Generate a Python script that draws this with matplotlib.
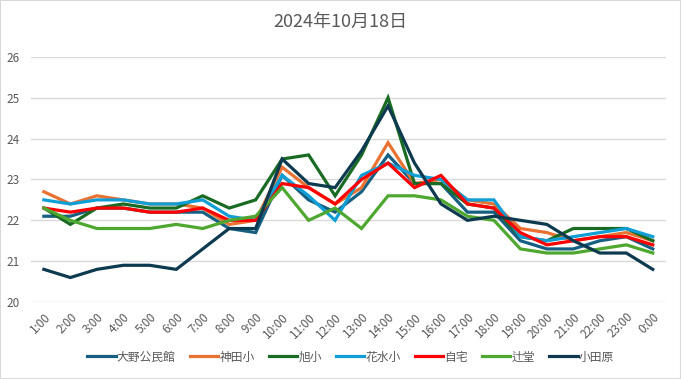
import matplotlib
matplotlib.use('Agg')
import matplotlib.pyplot as plt
from matplotlib.patches import Rectangle

plt.rcParams['font.family'] = ['Noto Sans CJK JP', 'DejaVu Sans']

hours = ['1:00', '2:00', '3:00', '4:00', '5:00', '6:00', '7:00', '8:00',
         '9:00', '10:00', '11:00', '12:00', '13:00', '14:00', '15:00', '16:00',
         '17:00', '18:00', '19:00', '20:00', '21:00', '22:00', '23:00', '0:00']

ohno    = [22.1, 22.1, 22.3, 22.3, 22.2, 22.2, 22.2, 21.8, 21.7, 23.1, 22.5, 22.2,
           22.7, 23.6, 22.9, 22.9, 22.2, 22.2, 21.5, 21.3, 21.3, 21.5, 21.6, 21.3]
kanda   = [22.7, 22.4, 22.6, 22.5, 22.4, 22.4, 22.3, 21.9, 22.0, 23.3, 22.8, 22.4,
           22.8, 23.9, 22.9, 23.0, 22.5, 22.4, 21.8, 21.7, 21.5, 21.6, 21.7, 21.5]
asahi   = [22.3, 21.9, 22.3, 22.4, 22.3, 22.3, 22.6, 22.3, 22.5, 23.5, 23.6, 22.6,
           23.6, 25.0, 22.9, 22.9, 22.4, 22.3, 21.6, 21.5, 21.8, 21.8, 21.8, 21.5]
hanamizu = [22.5, 22.4, 22.5, 22.5, 22.4, 22.4, 22.5, 22.1, 22.0, 23.1, 22.6, 22.0,
            23.1, 23.4, 23.1, 23.0, 22.5, 22.5, 21.6, 21.5, 21.6, 21.7, 21.8, 21.6]
jitaku  = [22.3, 22.2, 22.3, 22.3, 22.2, 22.2, 22.3, 22.0, 22.0, 22.9, 22.8, 22.4,
           23.0, 23.4, 22.8, 23.1, 22.4, 22.3, 21.7, 21.4, 21.5, 21.6, 21.6, 21.4]
tsujido = [22.3, 22.0, 21.8, 21.8, 21.8, 21.9, 21.8, 22.0, 22.1, 22.8, 22.0, 22.3,
           21.8, 22.6, 22.6, 22.5, 22.1, 22.0, 21.3, 21.2, 21.2, 21.3, 21.4, 21.2]
odawara = [20.8, 20.6, 20.8, 20.9, 20.9, 20.8, 21.3, 21.8, 21.8, 23.5, 22.9, 22.8,
           23.7, 24.8, 23.4, 22.4, 22.0, 22.1, 22.0, 21.9, 21.5, 21.2, 21.2, 20.8]

series = [
    ('大野公民館', ohno,     '#156082'),
    ('神田小',     kanda,    '#E97132'),
    ('旭小',       asahi,    '#196B24'),
    ('花水小',     hanamizu, '#0F9ED5'),
    ('自宅',       jitaku,   '#FF0000'),
    ('辻堂',       tsujido,  '#4EA72E'),
    ('小田原',     odawara,  '#0D3A4F'),
]

fig = plt.figure(figsize=(6.81, 3.79), dpi=100)
ax = fig.add_axes([0.045, 0.203, 0.933, 0.647])

x = list(range(len(hours)))
for name, vals, col in series:
    ax.plot(x, vals, color=col, lw=2.3, label=name, solid_joinstyle='miter')

ax.set_xlim(-0.5, len(hours) - 0.5)
ax.set_ylim(20, 26)
ax.set_yticks([20, 21, 22, 23, 24, 25, 26])
ax.set_xticks(x)
ax.set_xticklabels(hours, rotation=45, ha='right', va='top',
                   rotation_mode='anchor')
ax.tick_params(axis='both', length=0, colors='#595959', labelsize=8.5)
ax.tick_params(axis='x', pad=6)
ax.tick_params(axis='y', pad=8)
ax.grid(axis='y', color='#D9D9D9', lw=1)
ax.set_axisbelow(True)
for s in ax.spines.values():
    s.set_visible(False)

fig.text(0.5, 0.942, '2024年10月18日', ha='center', va='center',
         fontsize=13, color='#595959')

fig.legend(loc='center', bbox_to_anchor=(0.515, 0.058), ncol=7, frameon=False,
           fontsize=8.5, handlelength=2.4, columnspacing=1.2, handletextpad=0.1,
           labelcolor='#595959')

fig.patches.append(Rectangle((0, 0), 1, 1, transform=fig.transFigure,
                             fill=False, edgecolor='#D9D9D9', lw=1.5))

fig.savefig('out.png', dpi=100)
